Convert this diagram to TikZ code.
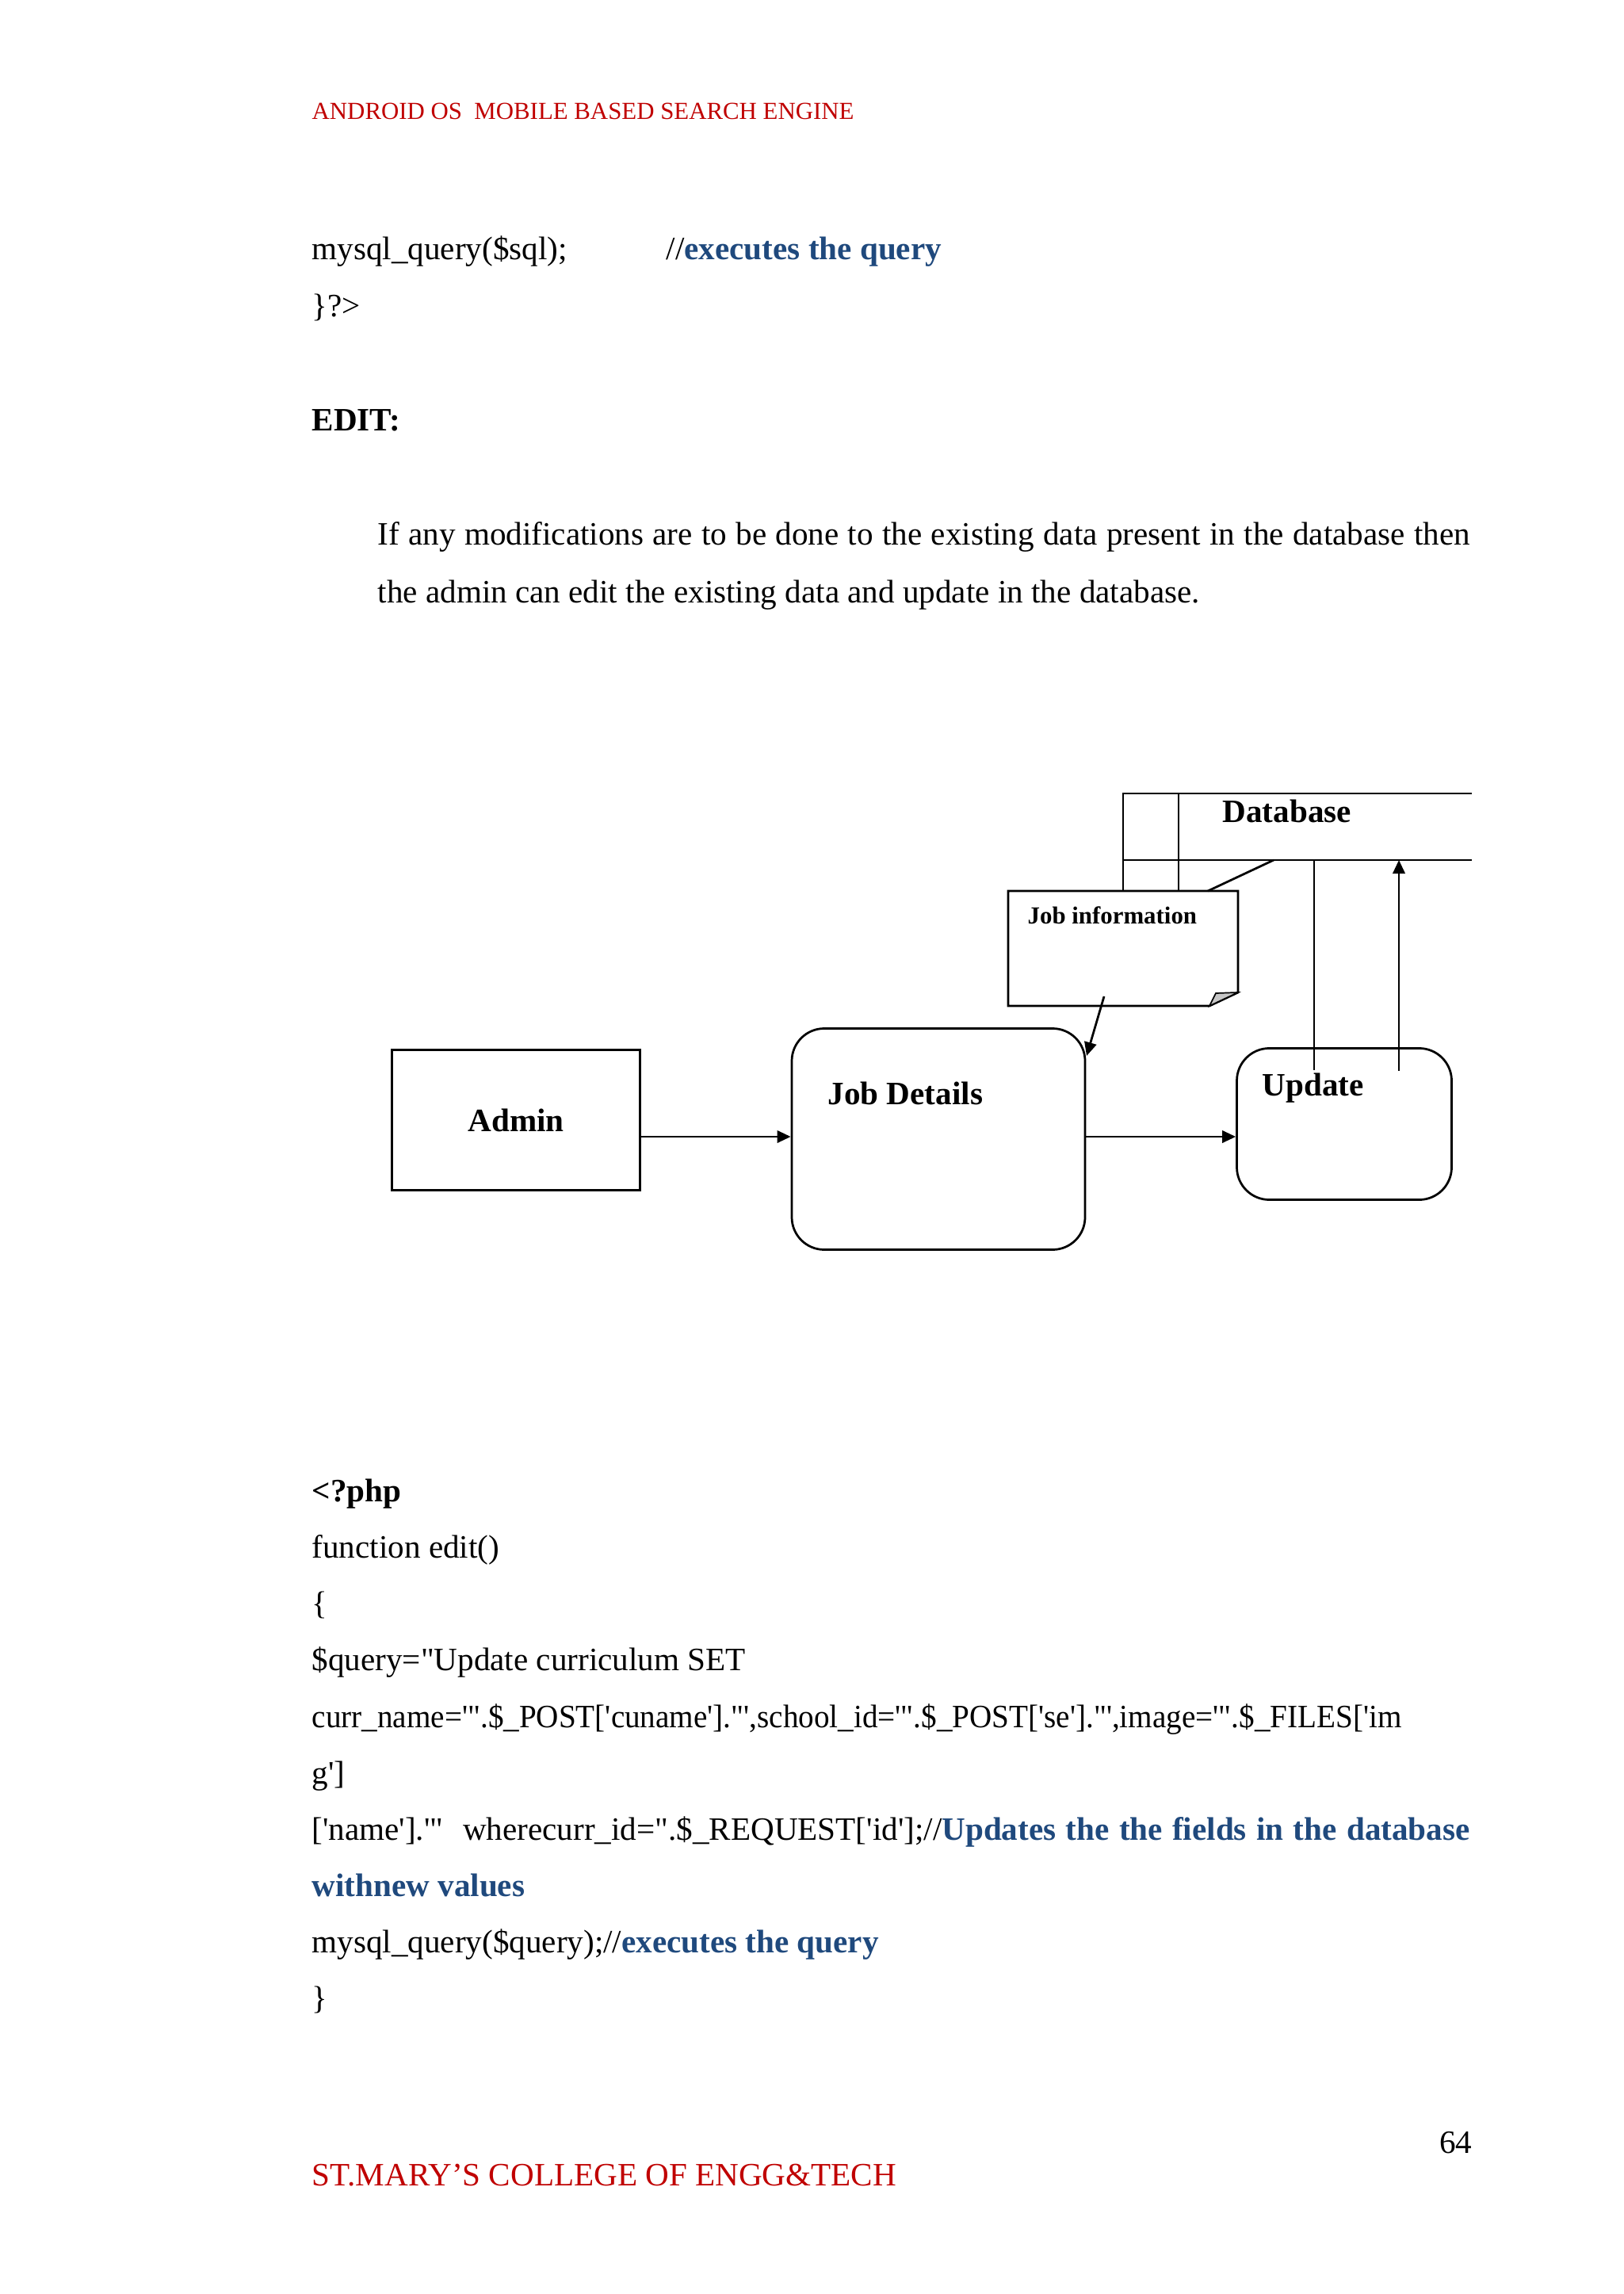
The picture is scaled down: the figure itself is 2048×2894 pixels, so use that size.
\documentclass[tikz,border=0pt]{standalone}
\usepackage{fontspec}
\newfontfamily\tnr{Liberation Serif}
\usetikzlibrary{arrows.meta}
\definecolor{hdred}{RGB}{192,0,0}
\definecolor{cmtblue}{RGB}{31,73,125}
\newcommand{\cmt}[1]{\textcolor{cmtblue}{\bfseries #1}}

\begin{document}
\begin{tikzpicture}[x=0.0102539cm, y=-0.0102539cm,
  every node/.style={inner sep=0pt, font=\tnr\fontsize{12}{14}\selectfont},
  txt/.style={anchor=base west},
  box/.style={draw, line width=0.8pt},
  rbox/.style={draw, line width=0.8pt, rounded corners=0.42cm},
  lbl/.style={font=\tnr\bfseries\fontsize{12}{14}\selectfont},
  ln/.style={line width=0.8pt},
  arr/.style={line width=0.8pt, -{Triangle[length=5pt,width=4.5pt]}}]
\useasboundingbox[fill=white] (0,0) rectangle (2048,2894);

% page text
\node[txt, text=hdred, font=\tnr\fontsize{9}{11}\selectfont] (hdr) at (393,151) {ANDROID OS\ \ MOBILE BASED SEARCH ENGINE};
\node[txt] (q1) at (393,328) {mysql\_query(\$sql);};
\node[txt] (q1c) at (840,328) {//\cmt{executes the query}};
\node[txt] (q2) at (393,400) {\}?>};
\node[txt, font=\tnr\bfseries\fontsize{12}{14}\selectfont] (edit) at (393,544) {EDIT:};
\node[txt] (p1) at (476,688) {\makebox[14.13cm][s]{If any modifications are to be done to the existing data present in the database then}};
\node[txt] (p2) at (476,760) {the admin can edit the existing data and update in the database.};

% diagram
\node[box, lbl, minimum width=3.21cm, minimum height=1.815cm] (admin) at (651,1413) {Admin};
\node[rbox, minimum width=3.794cm, minimum height=2.861cm] (jobdet) at (1184,1437) {};
\node[lbl, txt] (jobdettxt) at (1044,1393) {Job Details};
\node[rbox, minimum width=2.779cm, minimum height=1.959cm] (upd) at (1696,1418) {};
\node[lbl, txt] (updtxt) at (1592,1382) {Update};

\draw[ln] (1857,1001) -- (1417,1001) -- (1417,1130);
\draw[ln] (1417,1085) -- (1857,1085);
\draw[ln] (1487,1001) -- (1487,1130);
\node[lbl, txt] (db) at (1542,1037) {Database};

\draw[ln, fill=white] (1272,1124) -- (1562,1124) -- (1562,1252) -- (1526,1269) -- (1272,1269) -- cycle;
\draw[line width=0.5pt, fill=gray!45] (1526,1269) -- (1534,1253) -- (1562,1252) -- cycle;
\node[txt, font=\tnr\bfseries\fontsize{9}{11}\selectfont] (jobinfo) at (1296,1165) {Job information};

\coordinate (row) at (0,1434);
\coordinate (dbA) at (1607,1085);
\coordinate (noteA) at (1524,1124);
\coordinate (noteB) at (1393,1257);
\coordinate (jdIn) at (1371,1332);
\coordinate (dbB) at (1658,1085);
\coordinate (updA) at (1658,1350);
\coordinate (updB) at (1765,1351);
\coordinate (dbC) at (1765,1085);

\draw[ln] (dbA) -- (noteA);
\draw[ln] (dbB) -- (updA);
\foreach \u/\v in {noteB/jdIn,updB/dbC} \draw[arr] (\u) -- (\v);
\draw[arr] (admin.east |- row) -- (jobdet.west |- row);
\draw[arr] (jobdet.east |- row) -- (upd.west |- row);

% code
\node[txt, font=\tnr\bfseries\fontsize{12}{14}\selectfont] (c1) at (393,1894) {<?php};
\node[txt] (c2) at (393,1965) {function edit()};
\node[txt] (c3) at (393,2036) {\{};
\node[txt] (c4) at (393,2107) {\$query="Update curriculum SET};
\node[txt] (c5) at (393,2179) {\scalebox{0.952}[1]{curr\_name='".\$\_POST['cuname']."',school\_id='".\$\_POST['se']."',image='".\$\_FILES['im}};
\node[txt] (c6) at (393,2250) {g']};
\node[txt] (c7) at (393,2321) {\makebox[14.98cm][s]{['name'].'"\ \ wherecurr\_id=".\$\_REQUEST['id'];//\cmt{Updates the the fields in the database}}};
\node[txt] (c8) at (393,2392) {\cmt{withnew values}};
\node[txt] (c9) at (393,2463) {mysql\_query(\$query);//\cmt{executes the query}};
\node[txt] (c10) at (393,2534) {\}};

% footer
\node[anchor=base east] (pgno) at (1858,2716) {64};
\node[txt, text=hdred] (ftr) at (393,2757) {ST.MARY’S COLLEGE OF ENGG\&TECH};
\end{tikzpicture}
\end{document}
